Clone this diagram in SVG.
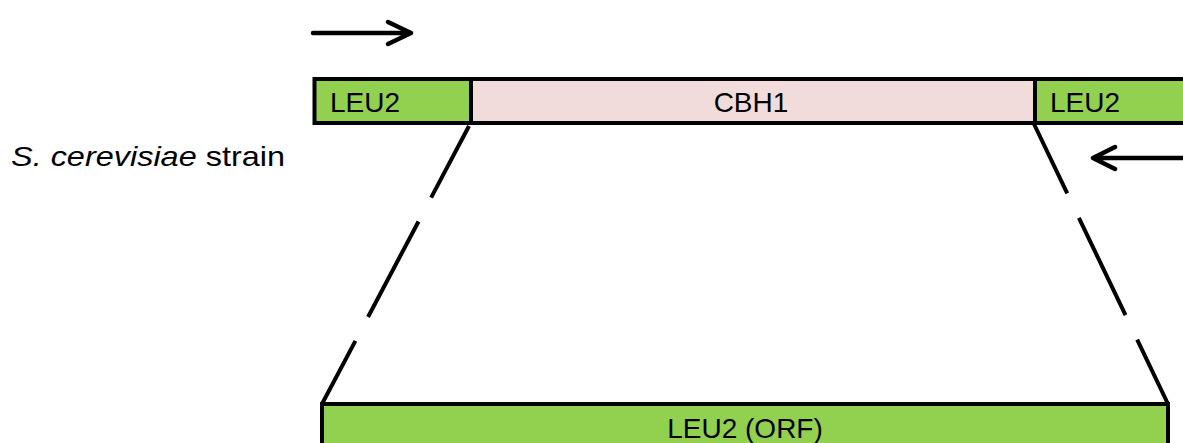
<svg xmlns="http://www.w3.org/2000/svg" width="1183" height="443" viewBox="0 0 1183 443">
  <style>
    .seg { stroke: #000; stroke-width: 4; }
    .leu { fill: #92D050; }
    .cbh { fill: #F2DCDB; }
    .lbl { font-family: "Liberation Sans", Arial, sans-serif; font-size: 28px; fill: #000; }
    .dash { fill: none; stroke: #000; stroke-width: 4; stroke-dasharray: 108 27; }
    .arrow { fill: none; stroke: #000; stroke-width: 4.5; stroke-linecap: round; stroke-linejoin: round; }
  </style>

  <!-- strain label -->
  <g id="strain-label">
    <text class="lbl" x="11" y="166" font-size="29" textLength="274" lengthAdjust="spacingAndGlyphs"><tspan font-style="italic">S. cerevisiae</tspan> strain</text>
  </g>

  <!-- chromosomal locus: LEU2 | CBH1 | LEU2 -->
  <g id="leu2-left">
    <rect class="seg leu" x="314.5" y="79" width="156.5" height="44"/>
    <text class="lbl" x="330" y="112">LEU2</text>
  </g>
  <g id="cbh1">
    <rect class="seg cbh" x="471" y="79" width="564" height="44"/>
    <text class="lbl" x="751" y="112" text-anchor="middle">CBH1</text>
  </g>
  <g id="leu2-right">
    <rect class="seg leu" x="1035" y="79" width="160" height="44"/>
    <text class="lbl" x="1050" y="112">LEU2</text>
  </g>

  <!-- expanded LEU2 open reading frame -->
  <g id="leu2-orf">
    <rect class="seg leu" x="322" y="404" width="846" height="60"/>
    <text class="lbl" x="745" y="438" text-anchor="middle">LEU2 (ORF)</text>
  </g>

  <!-- zoom lines and primer arrows -->
  <g id="connectors">
    <line class="dash" x1="469" y1="126" x2="322" y2="404" stroke-dashoffset="27"/>
    <line class="dash" x1="1034" y1="124" x2="1168" y2="404" stroke-dashoffset="31"/>
    <path class="arrow" d="M313 33 H411 M388 22 L411 33 L388 44"/>
    <path class="arrow" d="M1190 158 H1093 M1115 147 L1093 158 L1115 169"/>
  </g>
</svg>
